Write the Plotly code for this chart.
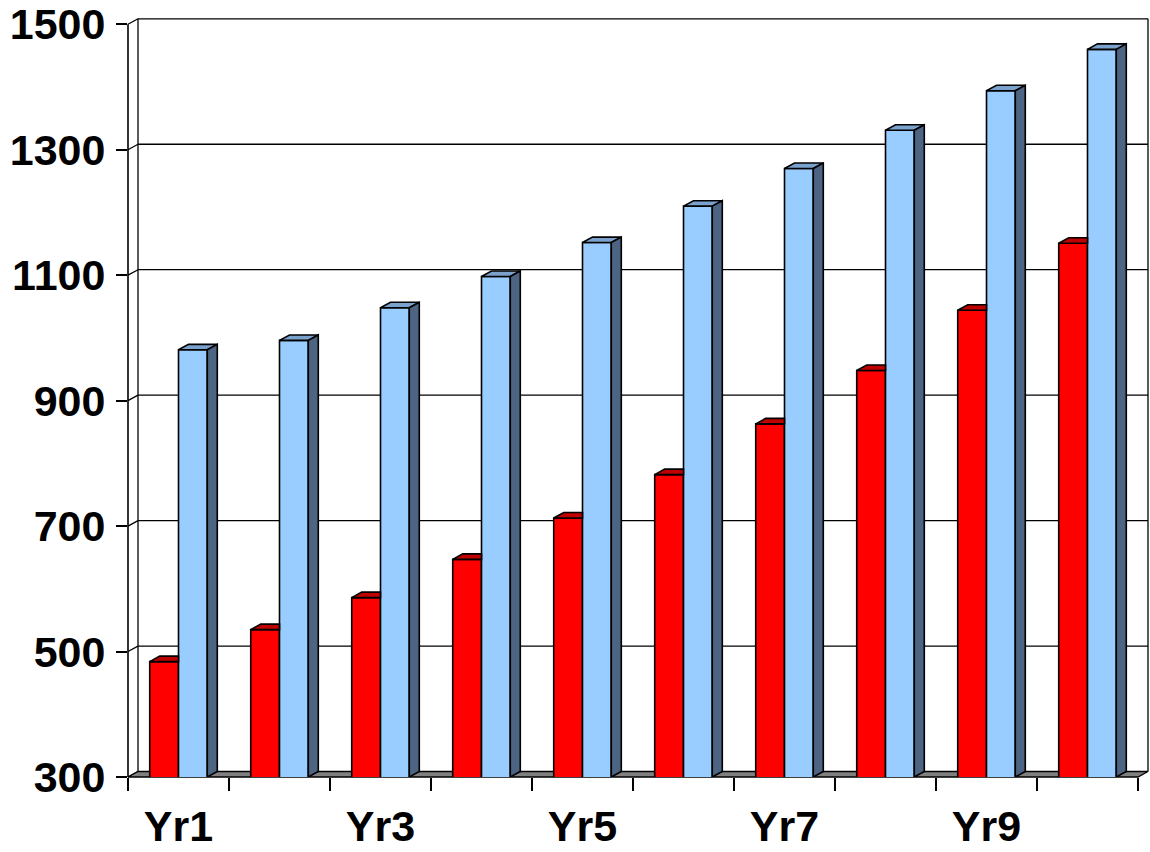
import plotly.graph_objects as go

# ---------------- data ----------------
categories = ["Yr1", "Yr2", "Yr3", "Yr4", "Yr5", "Yr6", "Yr7", "Yr8", "Yr9", "Yr10"]
red_values = [484, 535, 586, 647, 713, 782, 863, 948, 1044, 1151]
blue_values = [981, 996, 1048, 1098, 1152, 1210, 1270, 1331, 1394, 1460]
y_ticks = [300, 500, 700, 900, 1100, 1300, 1500]
label_every = 2  # Yr1, Yr3, Yr5 ...

# ---------------- geometry ----------------
W, H = 1150, 852
ML, MR, MT, MB = 128, 0, 12, 75
plot_w = W - ML - MR
plot_h = H - MT - MB
px_per_cat = 101.0
px_per_unit = (777 - 21.3) / 1200.0
x_lo = -0.5
x_hi = x_lo + plot_w / px_per_cat
y_lo = y_ticks[0]
y_hi = y_lo + plot_h / px_per_unit
DX = 10.0 / px_per_cat      # depth offset in x units
DY = 5.5 / px_per_unit      # depth offset in y units
BW = 0.285                  # bar width
n = len(categories)
xs = list(range(n))
x_front_hi = n - 0.5


def px(x):
    return (x - x_lo) / (x_hi - x_lo)


def py(y):
    return (y - y_lo) / (y_hi - y_lo)


FONT = dict(family="Arial, Liberation Sans, sans-serif", size=43, color="black", weight="bold")
RED, RED_TOP = "#FF0000", "#BE0000"
BLUE, BLUE_TOP, BLUE_SIDE = "#99CCFF", "#7AA2CC", "#4D6483"
FLOOR = "#808080"
LW = 1.6

fig = go.Figure()

# front faces
fig.add_trace(go.Bar(x=xs, y=red_values, width=BW, offset=-BW, marker=dict(color=RED, line=dict(color="black", width=LW)),
                     showlegend=False, hoverinfo="skip"))
fig.add_trace(go.Bar(x=xs, y=blue_values, width=BW, offset=0, marker=dict(color=BLUE, line=dict(color="black", width=LW)),
                     showlegend=False, hoverinfo="skip"))

# 3D faces computed from the data
rtx, rty, btx, bty, bsx, bsy = [], [], [], [], [], []
for i, (rv, bv) in enumerate(zip(red_values, blue_values)):
    x0, x1 = i - BW, i
    rtx += [x0, x1, x1, x0 + DX, x0, None]
    rty += [rv, rv, rv + DY, rv + DY, rv, None]
    b0, b1 = i, i + BW
    btx += [b0, b1, b1 + DX, b0 + DX, b0, None]
    bty += [bv, bv, bv + DY, bv + DY, bv, None]
    bsx += [b1, b1, b1 + DX, b1 + DX, b1, None]
    bsy += [y_lo, bv, bv + DY, y_lo + DY, y_lo, None]

for fx, fy, col in [(rtx, rty, RED_TOP), (btx, bty, BLUE_TOP), (bsx, bsy, BLUE_SIDE)]:
    fig.add_trace(go.Scatter(x=fx, y=fy, mode="lines", fill="toself", fillcolor=col,
                             line=dict(color="black", width=LW), showlegend=False, hoverinfo="skip"))

# invisible trace for the boundary-tick axis
fig.add_trace(go.Scatter(x=[x_lo], y=[y_lo], xaxis="x2", mode="markers", marker=dict(opacity=0),
                         showlegend=False, hoverinfo="skip"))

# ---------------- walls / floor (paper coordinates) ----------------
shapes = []
line = dict(color="black", width=1.3)
for t in y_ticks[1:]:
    shapes.append(dict(type="line", xref="paper", yref="paper", x0=px(x_lo + DX), x1=px(x_front_hi + DX),
                       y0=py(t + DY), y1=py(t + DY), line=line, layer="below"))
for t in y_ticks:
    shapes.append(dict(type="line", xref="paper", yref="paper", x0=px(x_lo), x1=px(x_lo + DX),
                       y0=py(t), y1=py(t + DY), line=line, layer="below"))
shapes.append(dict(type="line", xref="paper", yref="paper", x0=px(x_lo + DX), x1=px(x_lo + DX),
                   y0=py(y_lo + DY), y1=py(y_ticks[-1] + DY), line=line, layer="below"))
shapes.append(dict(type="line", xref="paper", yref="paper", x0=px(x_front_hi + DX), x1=px(x_front_hi + DX),
                   y0=py(y_lo + DY), y1=py(y_ticks[-1] + DY), line=line, layer="below"))
shapes.append(dict(type="line", xref="paper", yref="paper", x0=px(x_lo), x1=px(x_lo),
                   y0=py(y_lo), y1=py(y_ticks[-1]), line=dict(color="black", width=1.6), layer="below"))
# floor
fx = [x_lo, x_front_hi, x_front_hi + DX, x_lo + DX]
fy = [y_lo, y_lo, y_lo + DY, y_lo + DY]
path = "M " + " L ".join(f"{px(a)},{py(b)}" for a, b in zip(fx, fy)) + " Z"
shapes.append(dict(type="path", xref="paper", yref="paper", path=path, fillcolor=FLOOR,
                   line=dict(color="black", width=1.3), layer="below"))

fig.update_layout(
    width=W, height=H,
    margin=dict(l=ML, r=MR, t=MT, b=MB),
    paper_bgcolor="white", plot_bgcolor="rgba(0,0,0,0)",
    barmode="overlay",
    shapes=shapes,
    font=FONT,
    xaxis=dict(range=[x_lo, x_hi], showgrid=False, zeroline=False, showline=False,
               tickmode="array", tickvals=xs[::label_every], ticktext=categories[::label_every],
               ticks="", tickfont=FONT, ticklabelstandoff=20),
    xaxis2=dict(range=[x_lo, x_hi], overlaying="x", anchor="y", side="bottom", showgrid=False,
                zeroline=False, showline=False, tickmode="array",
                tickvals=[k - 0.5 for k in range(n + 1)], ticks="outside", ticklen=13, tickwidth=1.6,
                tickcolor="black", showticklabels=False),
    yaxis=dict(range=[y_lo, y_hi], showgrid=False, zeroline=False, showline=False,
               tickmode="array", tickvals=y_ticks, ticks="outside", ticklen=11, tickwidth=1.6,
               tickcolor="black", tickfont=FONT, ticklabelstandoff=2, ticklabeloverflow="allow"),
)

fig.write_html("out.html")
